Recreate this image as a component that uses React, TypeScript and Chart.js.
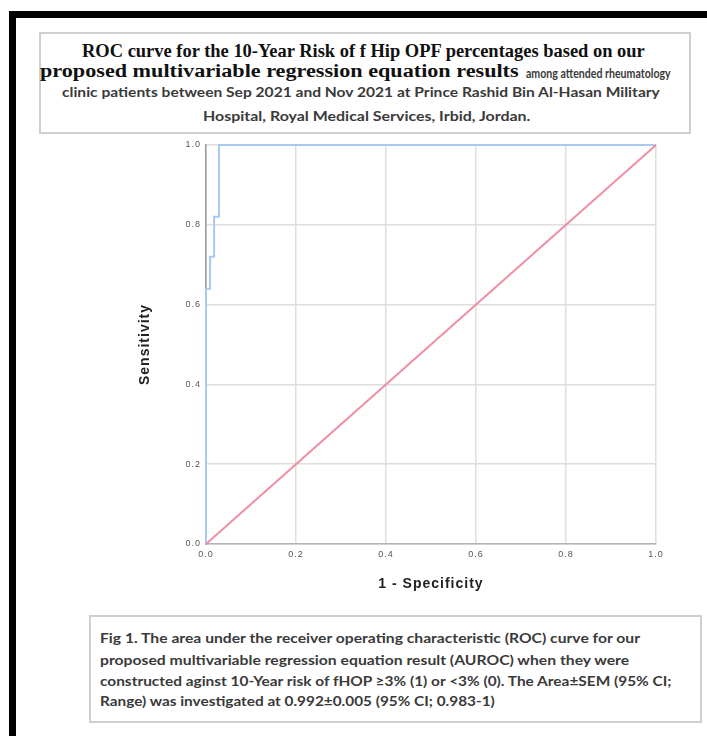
import React, { useEffect, useLayoutEffect, useRef } from 'react';
import { Chart, registerables } from 'chart.js';

Chart.register(...registerables);

// ---- data ----
const rocFpr = [0, 0, 0.009, 0.009, 0.018, 0.018, 0.029, 0.029, 1];
const rocTpr = [0, 0.64, 0.64, 0.72, 0.72, 0.82, 0.82, 1, 1];
const refFpr = [0, 1];
const refTpr = [0, 1];
const tickValues = [0, 0.2, 0.4, 0.6, 0.8, 1.0];
const xAxisTitle = '1 - Specificity';
const yAxisTitle = 'Sensitivity';

const titleLine1 = 'ROC curve for the 10-Year Risk of f Hip OPF percentages based on our';
const titleLine2a = 'proposed multivariable regression equation results';
const titleLine2b = 'among attended rheumatology';
const titleLine3 = 'clinic patients between Sep 2021 and Nov 2021 at Prince Rashid Bin Al-Hasan Military';
const titleLine4 = 'Hospital, Royal Medical Services, Irbid, Jordan.';
const captionLines = [
  'Fig 1. The area under the receiver operating characteristic (ROC) curve for our',
  'proposed multivariable regression equation result (AUROC) when they were',
  'constructed aginst 10-Year risk of fHOP \u22653% (1) or <3% (0). The Area\u00b1SEM (95% CI;',
  'Range) was investigated at 0.992\u00b10.005 (95% CI; 0.983-1)',
];

type FitProps = {
  x: number;
  y: number;
  w: number;
  font: string;
  color: string;
  text: string;
};

function FitLine({ x, y, w, font, color, text }: FitProps) {
  const ref = useRef<HTMLSpanElement>(null);
  useLayoutEffect(() => {
    const fit = () => {
      const el = ref.current;
      if (!el) return;
      el.style.transform = 'none';
      const nat = el.offsetWidth;
      if (nat > 0) el.style.transform = `scaleX(${w / nat})`;
    };
    fit();
    if ((document as any).fonts && (document as any).fonts.ready) {
      (document as any).fonts.ready.then(fit);
    }
  }, [w, text, font]);
  return (
    <div
      style={{
        position: 'absolute',
        left: x,
        top: y - 10,
        height: 20,
        lineHeight: '20px',
        whiteSpace: 'nowrap',
      }}
    >
      <span
        ref={ref}
        style={{ display: 'inline-block', transformOrigin: '0 50%', font, color }}
      >
        {text}
      </span>
    </div>
  );
}

const letterSpacingPlugin = {
  id: 'letterSpacing',
  beforeDraw(chart: any) {
    (chart.ctx as any).letterSpacing = '1px';
  },
};

function RocChart() {
  const canvasRef = useRef<HTMLCanvasElement>(null);
  useEffect(() => {
    if (!canvasRef.current) return;
    const tickFont = { size: 9, family: 'Liberation Sans, Arial, sans-serif' };
    const titleFont = { size: 14, weight: 'bold' as const, family: 'Liberation Sans, Arial, sans-serif' };
    const chart = new Chart(canvasRef.current, {
      type: 'scatter',
      data: {
        datasets: [
          {
            data: rocFpr.map((v, i) => ({ x: v, y: rocTpr[i] })),
            showLine: true,
            borderColor: '#a9caef',
            borderWidth: 2,
            pointRadius: 0,
            tension: 0,
            clip: false,
            order: 2,
          },
          {
            data: refFpr.map((v, i) => ({ x: v, y: refTpr[i] })),
            showLine: true,
            borderColor: '#ee8ea2',
            borderWidth: 2,
            pointRadius: 0,
            tension: 0,
            clip: false,
            order: 1,
          },
        ],
      },
      options: {
        animation: false,
        responsive: false,
        layout: { padding: { top: 15, right: 24, left: 0, bottom: 0 } },
        plugins: { legend: { display: false }, tooltip: { enabled: false } },
        scales: {
          x: {
            type: 'linear',
            min: 0,
            max: 1,
            afterBuildTicks: (s: any) => {
              s.ticks = tickValues.map((v) => ({ value: v }));
            },
            afterFit: (s: any) => {
              s.height = 66;
            },
            ticks: {
              font: tickFont,
              color: '#555',
              padding: 5,
              maxRotation: 0,
              autoSkip: false,
              callback: (v: any) => Number(v).toFixed(1),
            },
            grid: { color: '#dedede', lineWidth: 1.5, drawTicks: false },
            border: { color: '#b4b4b4', width: 1.5 },
            title: {
              display: true,
              text: xAxisTitle,
              font: titleFont,
              color: '#222',
              padding: { top: 0, bottom: 17 },
            },
          },
          y: {
            type: 'linear',
            min: 0,
            max: 1,
            afterBuildTicks: (s: any) => {
              s.ticks = tickValues.map((v) => ({ value: v }));
            },
            afterFit: (s: any) => {
              s.width = 106;
            },
            ticks: {
              font: tickFont,
              color: '#555',
              padding: 5,
              autoSkip: false,
              callback: (v: any) => Number(v).toFixed(1),
            },
            grid: { color: '#dedede', lineWidth: 1.5, drawTicks: false },
            border: { color: '#9a9a9a', width: 1.5 },
            title: {
              display: true,
              text: yAxisTitle,
              font: titleFont,
              color: '#222',
              padding: { top: 37, bottom: 0 },
            },
          },
        },
      },
      plugins: [letterSpacingPlugin],
    } as any);
    return () => chart.destroy();
  }, []);
  return (
    <canvas
      ref={canvasRef}
      width={580}
      height={480}
      style={{ position: 'absolute', left: 100, top: 130, width: 580, height: 480 }}
    />
  );
}

export default function App() {
  const serif = 'bold 18px "Liberation Serif", "DejaVu Serif", serif';
  const sansSmall = '700 13px Lato, "Open Sans", sans-serif';
  const sans = '700 14px Lato, "Open Sans", sans-serif';
  const capFont = '700 14px Lato, "Open Sans", sans-serif';
  const capX = 100;
  const capWidths = [540, 529, 572, 395];
  const capYs = [638, 660, 681, 701];
  return (
    <div
      style={{
        position: 'fixed',
        left: 0,
        top: 0,
        width: 707,
        height: 736,
        background: '#fff',
        overflow: 'hidden',
      }}
    >
      {/* black frame */}
      <div style={{ position: 'absolute', left: 9, top: 11, width: 698, height: 7, background: '#000' }} />
      <div style={{ position: 'absolute', left: 9, top: 11, width: 7, height: 725, background: '#000' }} />

      {/* title box */}
      <div
        style={{
          position: 'absolute',
          left: 39,
          top: 32,
          width: 652,
          height: 102,
          boxSizing: 'border-box',
          border: '2px solid #cfcfcf',
        }}
      />
      <FitLine x={82} y={51} w={563} font={serif} color="#111" text={titleLine1} />
      <FitLine x={40} y={71} w={479} font={serif} color="#111" text={titleLine2a} />
      <FitLine x={526} y={73} w={145} font={sansSmall} color="#3a3a3a" text={titleLine2b} />
      <FitLine x={62} y={92} w={598} font={sans} color="#3a3a3a" text={titleLine3} />
      <FitLine x={203} y={116} w={327} font={sans} color="#3a3a3a" text={titleLine4} />

      <RocChart />

      {/* caption box */}
      <div
        style={{
          position: 'absolute',
          left: 89,
          top: 615,
          width: 613,
          height: 108,
          boxSizing: 'border-box',
          border: '2px solid #cfcfcf',
        }}
      />
      {captionLines.map((t, i) => (
        <FitLine key={i} x={capX} y={capYs[i]} w={capWidths[i]} font={capFont} color="#3a3a3a" text={t} />
      ))}
    </div>
  );
}
